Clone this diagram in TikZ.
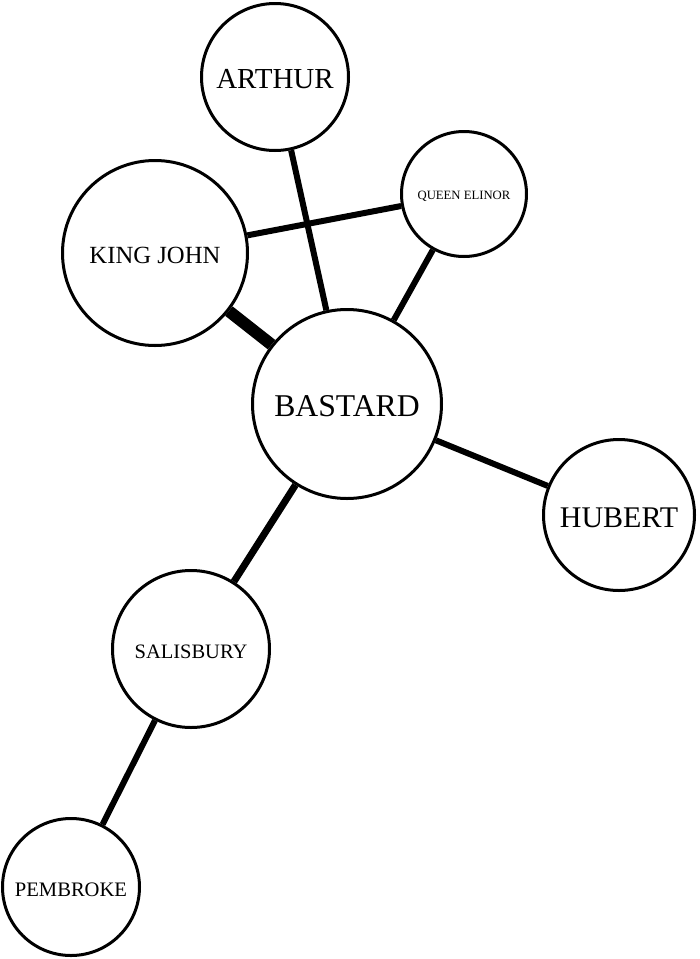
\documentclass[tikz,border=0pt]{standalone}
\usepackage{fontspec}
\setmainfont{Liberation Serif}
\begin{document}
\begin{tikzpicture}[x=1pt,y=-1pt,
    person/.style={draw,circle,line width=3pt,inner sep=0pt,fill=white}]
      \useasboundingbox (0,0) rectangle (700,959);

      %%%%%%%%%%%%%%%%%%%%%%%%%%%%%%%%%%%%%%%%%%%%%%%%%%%%%%%%%%%%%%%%%%%%%%%%%%%
      %%%%  Characters
      \foreach \name/\x/\y/\d/\fs/\txt in
        {arthur/275/77/147/29/ARTHUR,
         queen/464/194/125/12.7/QUEEN ELINOR,
         king/155/253/185/24.7/KING JOHN,
         bastard/347/404/189/31.7/BASTARD,
         hubert/619/515/151/30/HUBERT,
         salisbury/191/649/157/20.5/SALISBURY,
         pembroke/71/887/137/20.6/PEMBROKE}
      {\node[person,minimum size=\d pt] (\name) at (\x,\y)
         {\fontsize{\fs}{\fs}\selectfont
          \raisebox{0pt}[\dimexpr\height+5pt\relax]{\txt}};};

      %%%%%%%%%%%%%%%%%%%%%%%%%%%%%%%%%%%%%%%%%%%%%%%%%%%%%%%%%%%%%%%%%%%%%%%%%%%
      %%%%  Ties
      \foreach \a/\b/\w in
        {arthur/bastard/6, king/queen/6, queen/bastard/6,
         king/bastard/12, bastard/hubert/6,
         bastard/salisbury/7, salisbury/pembroke/6}
      {\draw[line width=\w pt] (\a) -- (\b);};
    \end{tikzpicture}
\end{document}
